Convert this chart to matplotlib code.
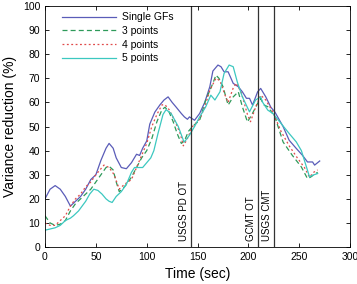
import matplotlib.pyplot as plt

plt.rcParams['font.family'] = ['Liberation Sans', 'DejaVu Sans']

# Single GFs
t_single = [0, 5, 10, 15, 20, 25, 30, 35, 40, 45, 50, 55, 60, 63, 67, 70, 75, 80, 85, 90, 93, 96,
            100, 103, 108, 113, 117, 121, 125, 129, 134, 137, 140, 142, 147, 152, 157, 162, 165, 170,
            173, 176, 180, 185, 190, 194, 198, 201, 204, 209, 212, 217, 222, 226, 230, 234, 240, 247,
            253, 258, 263, 265, 270]
v_single = [20, 24, 25.5, 24, 21, 17, 19, 21, 24, 28, 30, 36, 41, 43, 41, 37, 33, 32.5, 35, 38.5, 38, 41,
            44, 51, 56, 59, 61, 62.3, 60, 58, 55.4, 54, 53, 54, 52.6, 55.4, 60, 66.5, 73, 75.5,
            74.8, 72.7, 72.7, 67.9, 66.5, 64.4, 61.7, 61.7, 58.9, 64.4, 65.8, 62.3, 58, 56, 53, 50, 44.3, 40.9,
            38.1, 35.3, 35.3, 34, 35.7]

# 3 points
t_p3 = [0, 5, 10, 15, 20, 25, 30, 35, 40, 45, 50, 55, 60, 63, 67, 70, 73, 76, 80, 85, 90, 95, 100, 105,
        110, 115, 118, 122, 126, 130, 134, 137, 141, 145, 152, 158, 165, 168, 171, 175, 180, 185, 190,
        194, 199, 203, 209, 212, 215, 219, 226, 234, 243, 252, 258, 261, 266, 268]
v_p3 = [13, 10, 9, 9.5, 11, 15, 18, 20, 22, 24, 27, 30, 33, 33.5, 32, 27, 23, 24, 26, 29, 33, 37, 40, 45,
        52, 57, 58, 56, 52, 47, 43, 44, 48, 50, 52.6, 61, 67.9, 71.3, 70, 66.5, 58.9, 62.3, 64.4,
        58.2, 51.9, 54.7, 59.6, 61.6, 59, 58.2, 54, 43.6, 38.1, 33.2, 28.4, 29, 30.5, 31]

# 4 points
t_p4 = [0, 5, 10, 15, 20, 25, 30, 35, 40, 45, 50, 58, 63, 68, 73, 78, 85, 90, 95, 100, 105, 110, 115,
        118, 122, 128, 133, 136, 140, 145, 152, 157, 162, 168, 172, 177, 180, 185, 188, 193, 199, 202,
        207, 212, 217, 224, 232, 240, 248, 255, 260, 264, 268]
v_p4 = [10, 9, 9, 11, 13, 17, 20, 22, 25, 27, 30, 34, 33, 30, 24, 26, 28, 33, 38, 43, 50, 55, 59,
        59, 57, 52, 47, 42, 45, 50, 53, 58, 65, 70, 69, 63, 60, 66, 68, 64, 55, 52,
        58, 63, 61, 56, 48, 42, 37, 33, 29, 31, 32]

# 5 points
t_p5 = [0, 5, 10, 15, 20, 25, 28, 33, 40, 44, 48, 52, 56, 60, 63, 66, 70, 75, 80, 85, 88, 91, 96, 100,
        104, 107, 111, 116, 119, 124, 131, 136, 137, 142, 147, 152, 158, 163, 167, 172, 176, 181, 185,
        189, 194, 201, 207, 212, 214, 219, 224, 232, 240, 247, 252, 257, 260, 263, 268]
v_p5 = [7, 7.5, 8, 9, 11, 12, 13, 15, 19, 22, 24, 23.5, 22, 20, 19, 18.5, 21, 23, 26, 31, 33, 33, 33, 35,
        37, 40, 47, 55, 57, 55.4, 50, 44.3, 43.6, 46.4, 50, 54, 58.2, 63, 61, 64.4, 72, 75.5, 74.8,
        68.5, 62.3, 56.1, 61, 62.3, 60, 56.8, 55.4, 51.3, 47.1, 43.6, 40, 33.2, 29.1, 29.8, 30.5]

# event times
event_t = [144, 209.5, 224.8]
event_labels = ['USGS PD OT', 'GCMT OT', 'USGS CMT']

fig = plt.figure(figsize=(3.57, 2.84), dpi=100)
ax = fig.add_axes([0.126, 0.130, 0.855, 0.849])

ax.plot(t_single, v_single, color='#5a5cb8', lw=0.9, label='Single GFs')
ax.plot(t_p3, v_p3, color='#2e9a5a', lw=0.9, ls=(0, (4, 2.5)), label='3 points')
ax.plot(t_p4, v_p4, color='#e04a4a', lw=0.9, ls=(0, (1.5, 2)), label='4 points')
ax.plot(t_p5, v_p5, color='#3cc8c0', lw=0.9, label='5 points')

for t, lab in zip(event_t, event_labels):
    ax.axvline(t, color='#333333', lw=0.9)
    ax.text(t - 2, 2.5, lab, rotation=90, ha='right', va='bottom', fontsize=7)

ax.set_xlim(0, 300)
ax.set_ylim(0, 100)
ax.set_xticks(range(0, 301, 50))
ax.set_yticks(range(0, 101, 10))
ax.tick_params(direction='in', top=True, right=True, labelsize=7.5, length=3, width=0.6)
for s in ax.spines.values():
    s.set_linewidth(0.6)

ax.set_xlabel('Time (sec)', fontsize=10)
ax.set_ylabel('Variance reduction (%)', fontsize=10)

ax.legend(loc='upper left', frameon=False, fontsize=7.5, handlelength=5.2,
          handletextpad=0.6, labelspacing=0.35, borderaxespad=0.2,
          bbox_to_anchor=(0.035, 1.0))

fig.savefig('out.png', dpi=100)
